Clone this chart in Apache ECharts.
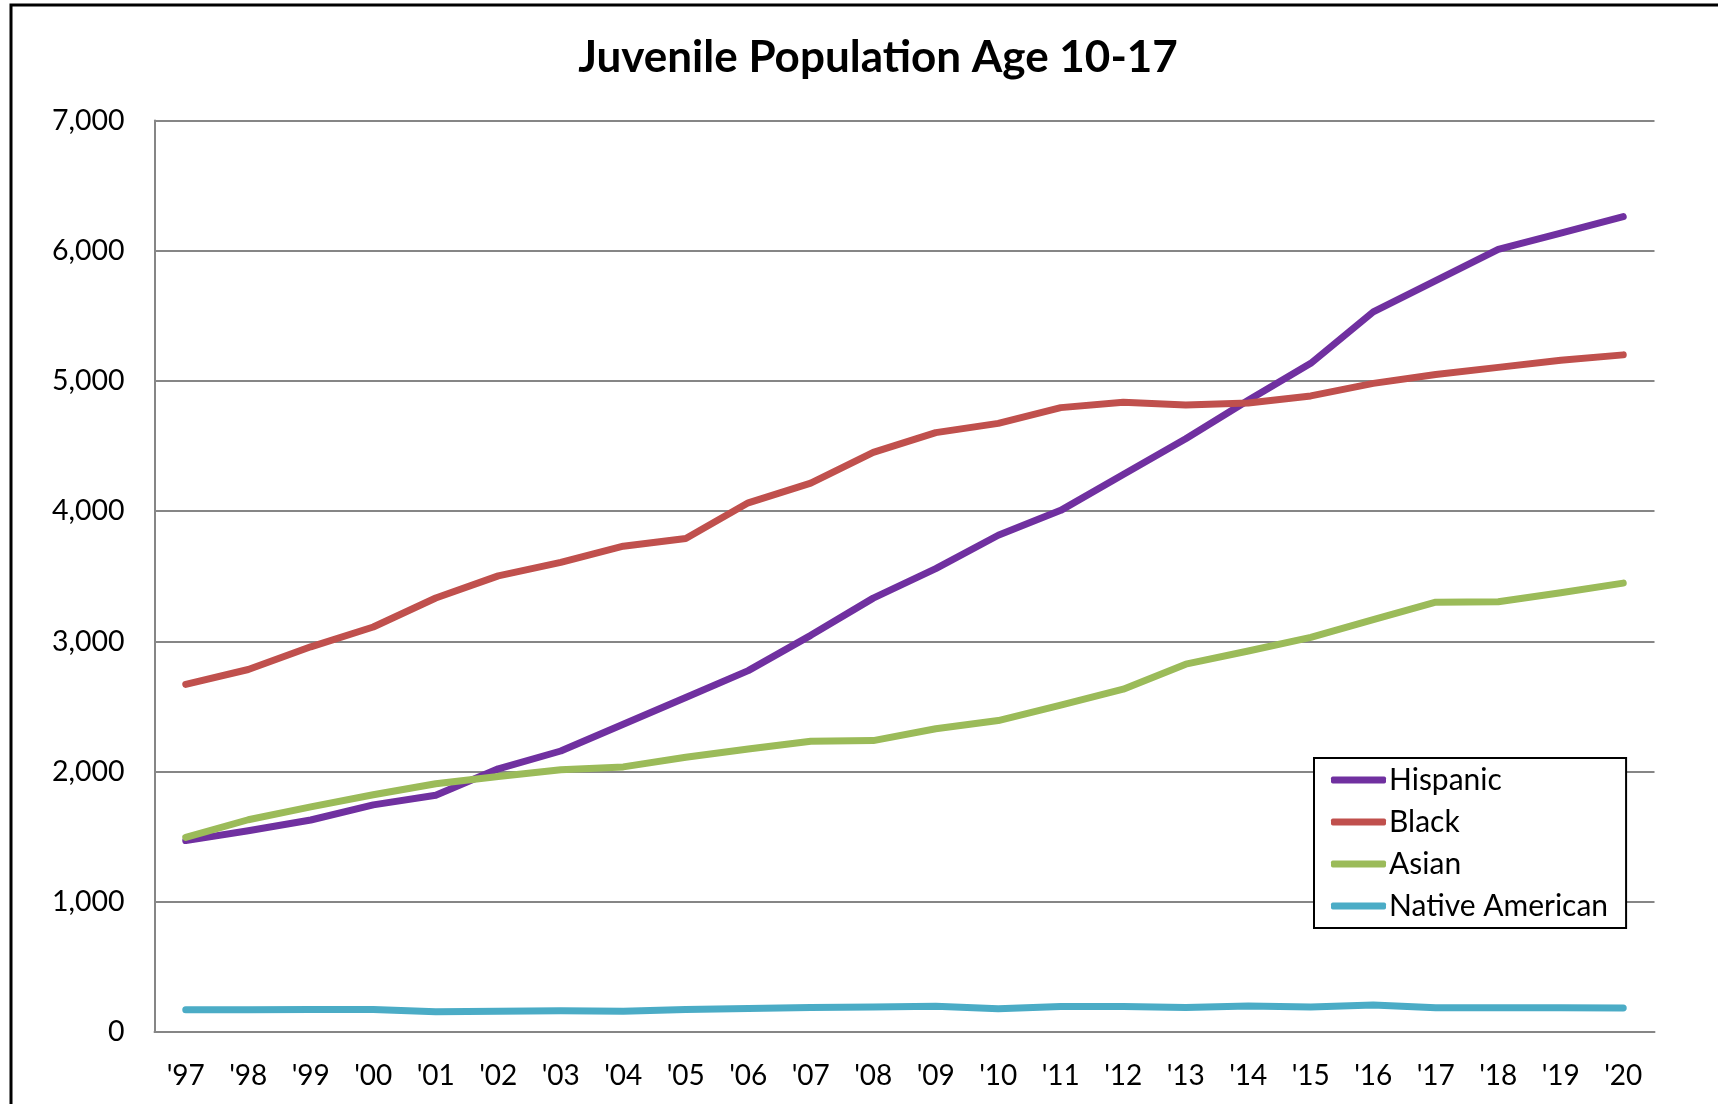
<!DOCTYPE html>
<html>
<head>
<meta charset="utf-8">
<script src="https://cdn.jsdelivr.net/npm/echarts@6/dist/echarts.min.js"></script>
<style>
  html, body { margin: 0; padding: 0; background: #fff; }
  #chart { width: 1718px; height: 1104px; }
</style>
</head>
<body>
<div id="chart"></div>
<script>
var years = ["'97", "'98", "'99", "'00", "'01", "'02", "'03", "'04", "'05", "'06", "'07", "'08",
             "'09", "'10", "'11", "'12", "'13", "'14", "'15", "'16", "'17", "'18", "'19", "'20"];

var hispanic = [1470, 1545, 1628, 1744, 1818, 2021, 2158, 2364, 2569, 2775, 3046, 3332,
                3559, 3815, 4006, 4282, 4556, 4852, 5135, 5530, 5770, 6010, 6135, 6262];
var black = [2670, 2784, 2958, 3110, 3333, 3503, 3606, 3731, 3790, 4064, 4215, 4451,
             4603, 4674, 4795, 4836, 4816, 4830, 4885, 4981, 5049, 5104, 5159, 5200];
var asian = [1495, 1630, 1729, 1822, 1907, 1962, 2014, 2036, 2110, 2173, 2233, 2238,
             2329, 2392, 2510, 2633, 2825, 2926, 3030, 3167, 3301, 3304, 3373, 3447];
var nativeAmerican = [170, 170, 172, 172, 156, 160, 163, 160, 172, 180, 188, 192,
                      197, 178, 195, 195, 189, 200, 192, 208, 186, 186, 186, 184];

var font = 'Lato';

var chart = echarts.init(document.getElementById('chart'));

function line(name, data, color) {
    return {
        name: name,
        type: 'line',
        data: data,
        symbol: 'none',
        lineStyle: { color: color, width: 7, cap: 'round', join: 'round' },
        itemStyle: { color: color }
    };
}

chart.setOption({
    animation: false,
    textStyle: { fontFamily: font },
    title: {
        text: 'Juvenile Population Age 10-17',
        left: 873,
        textAlign: 'center',
        top: 31,
        textStyle: { fontFamily: font, fontWeight: 'bold', fontSize: 44, color: '#000' }
    },
    grid: { left: 154.5, right: 63.5, top: 120.5, bottom: 72, containLabel: false },
    legend: {
        orient: 'vertical',
        left: 1314,
        top: 758,
        width: 312,
        padding: [6, 18, 6, 17],
        itemGap: 10,
        itemWidth: 55,
        itemHeight: 7,
        borderColor: '#000',
        borderWidth: 2,
        backgroundColor: '#fff',
        textStyle: { fontFamily: font, fontSize: 30, lineHeight: 32, color: '#000', padding: [0, 0, 0, -2] },
        icon: 'roundRect',
        data: ['Hispanic', 'Black', 'Asian', 'Native American']
    },
    xAxis: {
        type: 'category',
        data: years,
        boundaryGap: true,
        axisLine: { lineStyle: { color: '#868686', width: 2 } },
        axisTick: { show: false },
        axisLabel: { fontFamily: font, fontSize: 28, color: '#000', margin: 30 }
    },
    yAxis: {
        type: 'value',
        min: 0,
        max: 7000,
        interval: 1000,
        axisLine: { show: true, lineStyle: { color: '#868686', width: 2 } },
        axisTick: { show: false },
        splitLine: { lineStyle: { color: '#868686', width: 2 } },
        axisLabel: {
            fontFamily: font, fontSize: 28.5, color: '#000', margin: 30,
            formatter: function (v) { return v.toLocaleString('en-US'); }
        }
    },
    graphic: [{
        type: 'rect',
        shape: { x: 11, y: 5, width: 1760, height: 1160 },
        style: { fill: 'none', stroke: '#000', lineWidth: 3 },
        silent: true,
        z: -1
    }],
    series: [
        line('Hispanic', hispanic, '#7030A0'),
        line('Black', black, '#C0504D'),
        line('Asian', asian, '#9BBB59'),
        line('Native American', nativeAmerican, '#4BACC6')
    ]
});
</script>
</body>
</html>
